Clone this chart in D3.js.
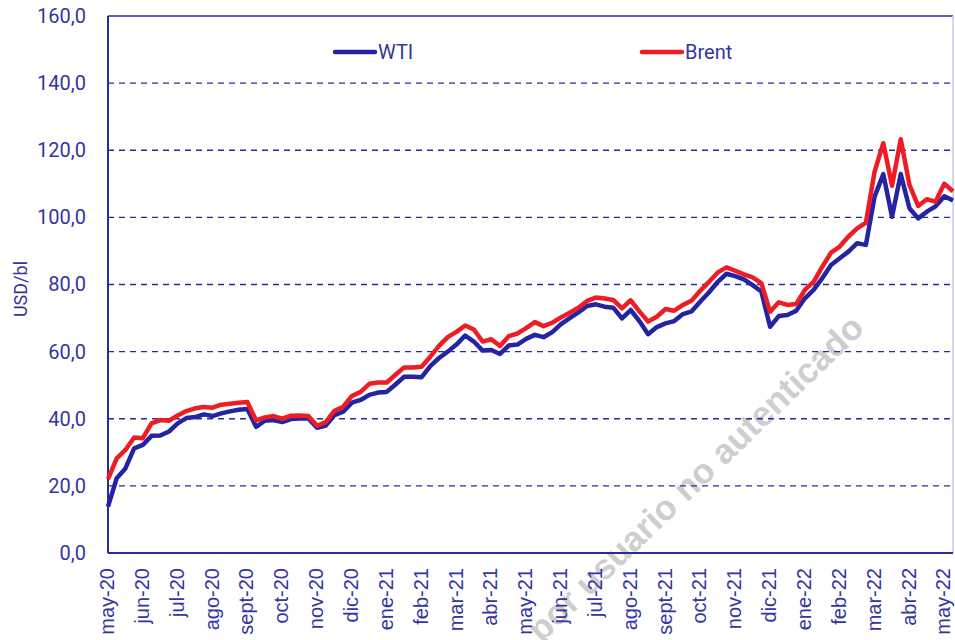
<!DOCTYPE html>
<html>
<head>
<meta charset="utf-8">
<script src="https://cdn.jsdelivr.net/npm/d3@7"></script>
<style>
    body { margin: 0; background: #ffffff; }
    #chart { width: 955px; height: 640px; }
    .axis path { display: none; }
    .axis text { fill: #3434a2; }
</style>
</head>
<body>
<div id="chart"></div>
<script>

// weekly prices, USD/bl
const wti = [
    13.8, 22.3, 25.2, 31.2, 32.2, 34.9, 35.0, 36.2, 38.6, 40.2,
    40.5, 41.3, 40.8, 41.6, 42.2, 42.7, 42.9, 37.6, 39.4, 39.6,
    39.0, 39.9, 40.1, 40.1, 37.3, 38.0, 41.1, 42.1, 44.8, 45.6,
    47.1, 47.8, 48.0, 50.2, 52.5, 52.5, 52.4, 55.7, 58.1, 60.0,
    62.1, 64.8, 63.0, 60.3, 60.5, 59.3, 61.8, 62.1, 63.8, 65.0,
    64.3, 65.8, 68.2, 70.0, 71.7, 73.6, 74.1, 73.4, 73.1, 69.9,
    72.4, 69.1, 65.2, 67.3, 68.4, 69.1, 71.2, 72.0, 74.9, 77.7,
    80.8, 83.2, 82.5, 81.5, 79.8, 77.9, 67.4, 70.6, 70.9, 72.2,
    75.9, 78.4, 81.9, 85.8, 87.8, 89.8, 92.3, 91.8, 106.2, 112.9,
    100.2, 112.9, 102.7, 99.7, 101.7, 103.3, 106.3, 105.0
];

const brent = [
    22.0, 28.2, 30.7, 34.4, 34.2, 38.6, 39.6, 39.4, 41.0, 42.3,
    43.1, 43.5, 43.3, 44.2, 44.5, 44.8, 45.0, 39.5, 40.4, 40.8,
    40.0, 40.9, 41.0, 40.8, 37.9, 39.0, 42.4, 43.6, 46.8, 48.0,
    50.4, 50.8, 50.8, 53.1, 55.3, 55.3, 55.5, 58.5, 61.7, 64.3,
    65.9, 67.8, 66.6, 63.0, 63.7, 61.7, 64.6, 65.4, 67.0, 68.8,
    67.6, 68.6, 70.2, 71.6, 73.1, 75.1, 76.1, 75.8, 75.4, 72.9,
    75.3, 72.0, 69.0, 70.4, 72.7, 72.2, 73.9, 75.2, 78.2, 80.8,
    83.6, 85.1, 84.1, 83.0, 82.1, 80.4, 71.9, 74.7, 73.9, 74.2,
    78.4, 80.8, 85.3, 89.5, 91.3, 94.3, 96.7, 98.4, 113.6, 122.1,
    109.4, 123.3, 109.7, 103.4, 105.4, 104.7, 110.0, 107.8
];

// one label every 4 weeks
const xLabels = [
    "may-20", "jun-20", "jul-20", "ago-20", "sept-20", "oct-20", "nov-20",
    "dic-20", "ene-21", "feb-21", "mar-21", "abr-21", "may-21", "jun-21",
    "jul-21", "ago-21", "sept-21", "oct-21", "nov-21", "dic-21", "ene-22",
    "feb-22", "mar-22", "abr-22", "may-22"
];
const labelStep = 4;

const yTicks = [0, 20, 40, 60, 80, 100, 120, 140, 160];

const series = [
    {name: "WTI", values: wti, color: "#2323a3"},
    {name: "Brent", values: brent, color: "#ee1d25"}
];

const width = 955;
const height = 640;
const margin = {top: 16, left: 108, right: 2, bottom: 87};

const svg = d3.select("#chart")
    .append("svg")
    .attr("width", width)
    .attr("height", height);

/* SCALES */

const xScale = d3.scaleLinear()
    .domain([0, wti.length - 1])
    .range([margin.left, width - margin.right]);

const yScale = d3.scaleLinear()
    .domain([0, 160])
    .range([height - margin.bottom, margin.top]);

/* WATERMARK */

svg.append("text")
    .attr("transform", "translate(866,330) rotate(-44)")
    .attr("text-anchor", "end")
    .attr("font-family", "Liberation Sans, Arial, sans-serif")
    .attr("font-weight", "bold")
    .attr("font-size", 35)
    .attr("fill", "#c6c6c6")
    .attr("opacity", 0.85)
    .text("por usuario no autenticado");

/* GRIDLINES */

svg.append("g")
    .selectAll("line")
    .data(yTicks.filter(d => d > 0 && d < 160))
    .enter()
    .append("line")
        .attr("x1", margin.left)
        .attr("x2", width - margin.right)
        .attr("y1", d => yScale(d))
        .attr("y2", d => yScale(d))
        .attr("stroke", "#2a2a9a")
        .attr("stroke-width", 1.3)
        .attr("stroke-dasharray", "6,5");

// plot frame
svg.append("line")
    .attr("x1", margin.left).attr("x2", width - margin.right)
    .attr("y1", yScale(160)).attr("y2", yScale(160))
    .attr("stroke", "#2a2a9a").attr("stroke-width", 1.5);

svg.append("line")
    .attr("x1", width - margin.right).attr("x2", width - margin.right)
    .attr("y1", yScale(160)).attr("y2", yScale(0))
    .attr("stroke", "#c9c9ee").attr("stroke-width", 1.5);

/* AXES */

const yAxis = svg.append("g")
    .attr("class", "axis")
    .attr("transform", `translate(${margin.left},0)`)
    .call(d3.axisLeft(yScale)
        .tickValues(yTicks)
        .tickSize(0)
        .tickPadding(22)
        .tickFormat(d => d.toFixed(1).replace(".", ",")));

yAxis.selectAll("text")
    .attr("font-family", "Roboto, sans-serif")
    .attr("font-size", 20);

const xAxis = svg.append("g")
    .attr("class", "axis")
    .attr("transform", `translate(0,${yScale(0)})`)
    .call(d3.axisBottom(xScale)
        .tickValues(xLabels.map((d, i) => i * labelStep))
        .tickSize(0)
        .tickFormat(i => xLabels[i / labelStep]));

xAxis.selectAll("text")
    .attr("font-family", "Liberation Sans, Arial, sans-serif")
    .attr("font-size", 20)
    .attr("text-anchor", "end")
    .attr("dy", "0.33em")
    .attr("transform", "translate(-1,0) rotate(-90)")
    .attr("x", -15)
    .attr("y", 0);

svg.append("line")
    .attr("x1", margin.left).attr("x2", margin.left)
    .attr("y1", yScale(160)).attr("y2", yScale(0))
    .attr("stroke", "#2a2a9a").attr("stroke-width", 2);

svg.append("line")
    .attr("x1", margin.left).attr("x2", width - margin.right)
    .attr("y1", yScale(0)).attr("y2", yScale(0))
    .attr("stroke", "#2a2a9a").attr("stroke-width", 2);

/* LINES */

const line = d3.line()
    .x((d, i) => xScale(i))
    .y(d => yScale(d));

svg.selectAll(".series")
    .data(series)
    .enter()
    .append("path")
        .attr("class", "series")
        .attr("d", d => line(d.values))
        .attr("fill", "none")
        .attr("stroke", d => d.color)
        .attr("stroke-width", 4.5)
        .attr("stroke-linejoin", "round");

/* AXIS LABEL */

svg.append("text")
    .attr("transform", "translate(27,289) rotate(-90)")
    .attr("text-anchor", "middle")
    .attr("font-family", "Roboto, sans-serif")
    .attr("font-size", 18)
    .attr("fill", "#3434a2")
    .text("USD/bl");

/* LEGEND */

const legendX = [335, 642];

const legend = svg.selectAll(".legend")
    .data(series)
    .enter()
    .append("g")
        .attr("class", "legend")
        .attr("transform", (d, i) => `translate(${legendX[i]},52)`);

legend.append("line")
    .attr("x1", 0).attr("x2", 40)
    .attr("stroke", d => d.color)
    .attr("stroke-width", 4.5)
    .attr("stroke-linecap", "round");

legend.append("text")
    .attr("x", 43)
    .attr("y", 7)
    .attr("font-family", "Roboto, sans-serif")
    .attr("font-size", 20)
    .attr("fill", "#3434a2")
    .text(d => d.name);

</script>
</body>
</html>
